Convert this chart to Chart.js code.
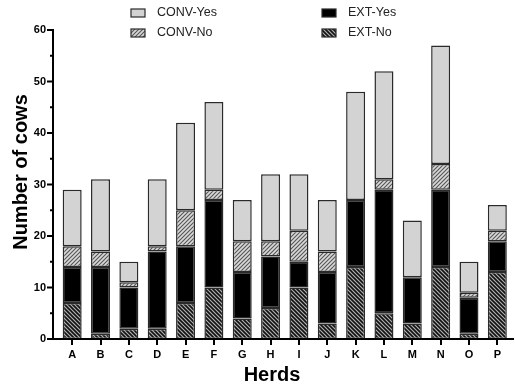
<!DOCTYPE html>
<html>
<head>
<meta charset="utf-8">
<script src="https://cdn.jsdelivr.net/npm/chart.js@4/dist/chart.umd.min.js"></script>
<style>
  html, body { margin: 0; padding: 0; background: #fff; }
  #wrap { width: 515px; height: 385px; }
</style>
</head>
<body>
<div id="wrap"><canvas id="c" width="515" height="385"></canvas></div>
<script>
// Herd categories and cow counts per group
const herds   = ['A','B','C','D','E','F','G','H','I','J','K','L','M','N','O','P'];
const extNo   = [7, 1, 2, 2, 7, 10, 4, 6, 10, 3, 14, 5, 3, 14, 1, 13];
const extYes  = [7, 13, 8, 15, 11, 17, 9, 10, 5, 10, 13, 24, 9, 15, 7, 6];
const convNo  = [4, 3, 1, 1, 7, 2, 6, 3, 6, 4, 0, 2, 0, 5, 1, 2];
const convYes = [11, 14, 4, 13, 17, 17, 8, 13, 11, 10, 21, 21, 11, 23, 6, 5];
const yTicks  = [0, 10, 20, 30, 40, 50, 60];

// Hatch fills
function hatch(bg, fg, dir, size, width) {
  const t = document.createElement('canvas');
  t.width = size; t.height = size;
  const g = t.getContext('2d');
  g.fillStyle = bg; g.fillRect(0, 0, size, size);
  g.strokeStyle = fg; g.lineWidth = width;
  g.beginPath();
  if (dir === '/') {
    g.moveTo(0, size); g.lineTo(size, 0);
    g.moveTo(-1, 1); g.lineTo(1, -1);
    g.moveTo(size - 1, size + 1); g.lineTo(size + 1, size - 1);
  } else {
    g.moveTo(0, 0); g.lineTo(size, size);
    g.moveTo(-1, size - 1); g.lineTo(1, size + 1);
    g.moveTo(size - 1, -1); g.lineTo(size + 1, 1);
  }
  g.stroke();
  return g.createPattern(t, 'repeat');
}
const ctx0 = document.getElementById('c').getContext('2d');
const fillExtNo  = hatch('#b0b0b0', '#111', '\\', 4, 1.6);
const fillConvNo = hatch('#d8d8d8', '#555', '/', 4, 1.1);
const fillConvYes = '#d3d3d3';
const fillExtYes  = '#000000';
const edge = '#2a2a2a';

const seriesDefs = [
  { label: 'EXT-No',   data: extNo,   backgroundColor: fillExtNo },
  { label: 'EXT-Yes',  data: extYes,  backgroundColor: fillExtYes },
  { label: 'CONV-No',  data: convNo,  backgroundColor: fillConvNo },
  { label: 'CONV-Yes', data: convYes, backgroundColor: fillConvYes }
];

// Axis lines, y tick marks, titles and a two-column legend
const decor = {
  id: 'decor',
  afterDraw(chart) {
    const c = chart.ctx;
    const y = chart.scales.y;
    const a = chart.chartArea;
    const axisX = a.left - 5;
    c.save();
    c.strokeStyle = '#000';
    c.lineWidth = 2;
    c.beginPath();
    c.moveTo(axisX, y.getPixelForValue(60) - 1);
    c.lineTo(axisX, y.getPixelForValue(0) + 1);
    c.moveTo(axisX - 1, y.getPixelForValue(0));
    c.lineTo(a.right + 2.5, y.getPixelForValue(0));
    c.stroke();
    c.beginPath();
    for (let v = 0; v <= 60; v += 5) {
      const py = y.getPixelForValue(v);
      const len = (v % 10 === 0) ? 6 : 3;
      c.moveTo(axisX - len, py);
      c.lineTo(axisX, py);
    }
    c.stroke();

    // axis titles
    c.fillStyle = '#000';
    c.font = 'bold 20px "Liberation Sans", Arial, sans-serif';
    c.textAlign = 'center';
    c.textBaseline = 'middle';
    c.fillText('Herds', 272, 375);
    c.save();
    c.translate(21, 172);
    c.rotate(-Math.PI / 2);
    c.fillText('Number of cows', 0, 0);
    c.restore();

    // legend
    const items = [
      { ds: 3, x: 131, y: 13 },
      { ds: 2, x: 131, y: 33 },
      { ds: 1, x: 322, y: 13 },
      { ds: 0, x: 322, y: 33 }
    ];
    c.font = '12.5px "Liberation Sans", Arial, sans-serif';
    c.textAlign = 'left';
    items.forEach(it => {
      const d = chart.data.datasets[it.ds];
      c.fillStyle = d.backgroundColor;
      c.fillRect(it.x, it.y - 4, 14, 8);
      c.lineWidth = 1.2;
      c.strokeStyle = edge;
      c.strokeRect(it.x, it.y - 4, 14, 8);
      c.fillStyle = '#222';
      c.fillText(d.label, it.x + 26, it.y);
    });
    c.restore();
  }
};

new Chart(ctx0, {
  type: 'bar',
  data: {
    labels: herds,
    datasets: seriesDefs.map(s => ({
      label: s.label,
      // empty segments are skipped so no stray outline is drawn
      data: s.data.map(v => (v === 0 ? null : v)),
      backgroundColor: s.backgroundColor,
      borderColor: edge,
      borderWidth: 1.5,
      borderSkipped: false,
      categoryPercentage: 1,
      barPercentage: 0.67
    }))
  },
  options: {
    responsive: false,
    animation: false,
    layout: { padding: { left: 0, top: 30, right: 3.5, bottom: 0 } },
    plugins: { legend: { display: false }, tooltip: { enabled: false } },
    scales: {
      x: {
        stacked: true,
        offset: true,
        afterFit(s) { s.height = 46; },
        border: { display: false },
        grid: { display: true, drawOnChartArea: false, offset: false, tickLength: 6, lineWidth: 2, color: '#000' },
        ticks: { padding: 3, color: '#000', font: { family: '"Liberation Sans", Arial, sans-serif', size: 11, weight: 'bold' } }
      },
      y: {
        stacked: true,
        min: 0,
        max: 60,
        afterFit(s) { s.width = 58; },
        afterBuildTicks(s) { s.ticks = yTicks.map(v => ({ value: v })); },
        border: { display: false },
        grid: { display: false, drawTicks: false },
        ticks: { padding: 12, color: '#000', font: { family: '"Liberation Sans", Arial, sans-serif', size: 11, weight: 'bold' } }
      }
    }
  },
  plugins: [decor]
});
</script>
</body>
</html>
